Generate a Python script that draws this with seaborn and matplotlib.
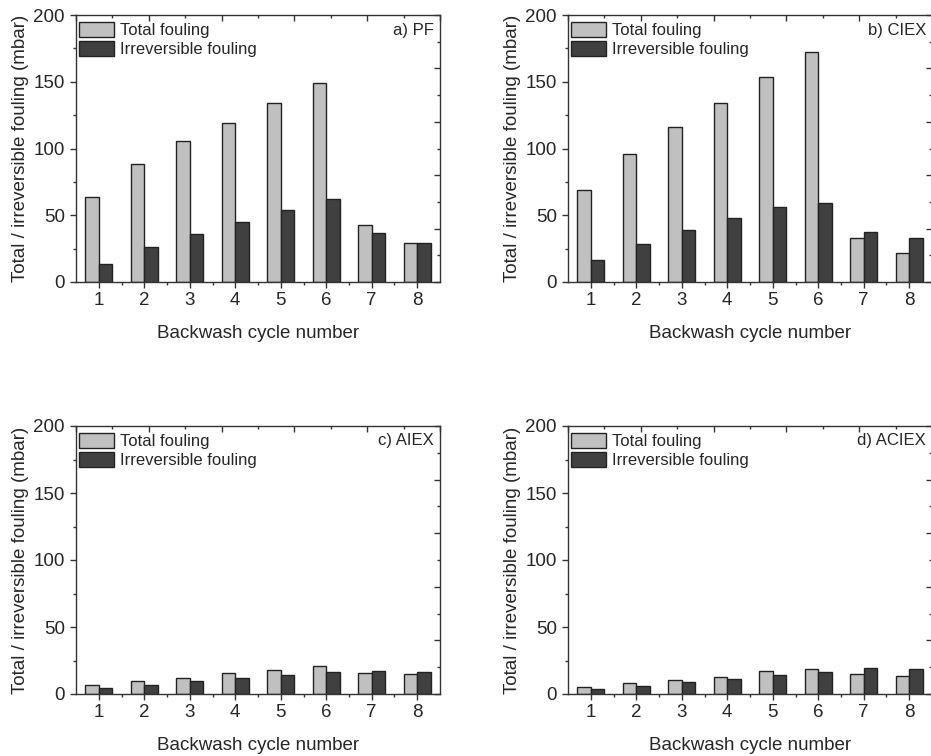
import numpy as np
import pandas as pd
import matplotlib
matplotlib.use("Agg")
import matplotlib.pyplot as plt
from matplotlib.patches import Patch
from matplotlib.ticker import FixedLocator, MultipleLocator
import seaborn as sns

# Backwash cycles and fouling (mbar) per pretreatment
cycles = [1, 2, 3, 4, 5, 6, 7, 8]
series_names = ["Total fouling", "Irreversible fouling"]

pf_total = [63.7, 88.6, 105.9, 118.9, 134.1, 149.3, 42.9, 29.5]
pf_irrev = [13.7, 26.0, 35.7, 44.7, 54.2, 61.9, 36.5, 29.5]

ciex_total = [69.2, 96.1, 116.1, 134.3, 153.8, 172.5, 33.2, 22.0]
ciex_irrev = [16.2, 28.7, 39.0, 48.2, 56.2, 59.4, 37.7, 32.7]

aiex_total = [6.4, 9.9, 12.3, 15.5, 18.0, 20.7, 16.0, 14.8]
aiex_irrev = [4.4, 6.9, 9.6, 11.8, 14.3, 16.5, 17.0, 16.3]

aciex_total = [5.2, 8.4, 10.8, 13.0, 17.2, 18.7, 14.8, 13.3]
aciex_irrev = [3.7, 6.2, 8.9, 11.1, 14.0, 16.7, 19.2, 19.0]

panel_titles = ["a) PF", "b) CIEX", "c) AIEX", "d) ACIEX"]
panel_data = [
    (pf_total, pf_irrev),
    (ciex_total, ciex_irrev),
    (aiex_total, aiex_irrev),
    (aciex_total, aciex_irrev),
]

bar_colors = ["#c0c0c0", "#404040"]
edge_color = "#222222"
spine_color = "#333333"

sns.set_style("ticks")
plt.rcParams["font.family"] = ["Liberation Sans", "DejaVu Sans"]

W, H = 931, 756
fig = plt.figure(figsize=(W / 100, H / 100), dpi=100)

# axes boxes in pixels: left, top, right, bottom
boxes = [
    (76, 15, 440, 282),
    (568, 15, 932, 282),
    (76, 426, 440, 694),
    (568, 426, 932, 694),
]

tick_fs = 13.5
legend_fs = 12.0

for (l, t, r, b), title, (tot, irr) in zip(boxes, panel_titles, panel_data):
    ax = fig.add_axes([l / W, (H - b) / H, (r - l) / W, (b - t) / H])
    df = pd.DataFrame({
        "cycle": cycles * 2,
        "value": list(tot) + list(irr),
        "type": [series_names[0]] * len(cycles) + [series_names[1]] * len(cycles),
    })
    sns.barplot(data=df, x="cycle", y="value", hue="type",
                palette=bar_colors, saturation=1, width=0.6, gap=0,
                edgecolor=edge_color, linewidth=1.0, errorbar=None,
                legend=False, ax=ax)

    ax.set_xlim(-0.5, 7.5)
    ax.set_ylim(0, 200)
    ax.yaxis.set_major_locator(MultipleLocator(50))
    ax.yaxis.set_minor_locator(MultipleLocator(25))
    ax.xaxis.set_minor_locator(FixedLocator(np.arange(0.5, 7.0, 1.0)))

    ax.tick_params(axis="both", which="major", direction="out", length=4,
                   width=1, color=spine_color, labelsize=tick_fs, pad=4)
    ax.tick_params(axis="both", which="minor", direction="out", length=2.5,
                   width=1, color=spine_color)
    ax.tick_params(axis="x", which="major", pad=3)

    for sp in ax.spines.values():
        sp.set_visible(True)
        sp.set_color(spine_color)
        sp.set_linewidth(1.0)

    # mirrored tick marks on top and right frame edges
    top = ax.secondary_xaxis("top", functions=(lambda x: (x + 0.5) / 8 * 10,
                                                lambda s: s * 0.8 - 0.5))
    top.set_xticks([0, 2, 4, 6, 8, 10])
    top.set_xticks([1, 3, 5, 7, 9], minor=True)
    top.tick_params(which="major", direction="in", length=4, width=1,
                    color=spine_color, labeltop=False)
    top.tick_params(which="minor", direction="in", length=2.5, width=1,
                    color=spine_color)
    top.spines["top"].set_visible(False)

    right = ax.secondary_yaxis("right", functions=(lambda y: y / 20,
                                                    lambda s: s * 20))
    right.set_yticks([0, 2, 4, 6, 8, 10])
    right.set_yticks([1, 3, 5, 7, 9], minor=True)
    right.tick_params(which="major", direction="in", length=4, width=1,
                      color=spine_color, labelright=False)
    right.tick_params(which="minor", direction="in", length=2.5, width=1,
                      color=spine_color)
    right.spines["right"].set_visible(False)

    ax.set_xlabel("Backwash cycle number", fontsize=tick_fs, labelpad=12)
    ax.set_ylabel("Total / irreversible fouling (mbar)", fontsize=tick_fs,
                  labelpad=3)

    handles = [Patch(facecolor=c, edgecolor=edge_color, linewidth=1.0)
               for c in bar_colors]
    ax.legend(handles, series_names, loc="upper left",
              bbox_to_anchor=(3 / (r - l), 1 - 7 / (b - t)),
              frameon=False, fontsize=legend_fs, borderaxespad=0,
              borderpad=0, handlelength=2.1, handleheight=1.05,
              labelspacing=0.15, handletextpad=0.35)

    ax.text(1 - 6 / (r - l), 1 - 15 / (b - t), title, transform=ax.transAxes,
            ha="right", va="center", fontsize=legend_fs)

fig.savefig("out.png", dpi=100)
